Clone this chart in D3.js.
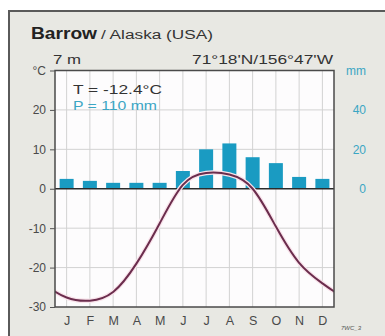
<!DOCTYPE html>
<html>
<head>
<meta charset="utf-8">
<script src="https://cdn.jsdelivr.net/npm/d3@7"></script>
<style>
  html, body { margin: 0; padding: 0; background: #fff; }
  svg { display: block; font-family: "Liberation Sans", Arial, sans-serif; }
</style>
</head>
<body>
<div id="climate"></div>
<script>
// Monthly data
const months = ["J", "F", "M", "A", "M", "J", "J", "A", "S", "O", "N", "D"];
const temperature = [-27.6, -28.4, -26.2, -19, -8.8, 1, 4, 3.6, 0, -9.6, -18.8, -24]; // °C
const precipitation = [5, 4, 3, 3, 3, 9, 20, 23, 16, 13, 6, 5]; // mm
const tempTicks = [-30, -20, -10, 0, 10, 20, 30];
const precTicks = [0, 20, 40, 60];

const W = 385, H = 336;
const plot = {left: 55, right: 334, top: 70.5, bottom: 307};

const svg = d3.select("#climate")
  .append("svg")
    .attr("width", W)
    .attr("height", H);

// Frame background
svg.append("rect")
    .attr("x", 9).attr("y", 11)
    .attr("width", W).attr("height", H)
    .attr("fill", "#e8e8e3")
    .attr("stroke", "#5a5a5a")
    .attr("stroke-width", 2);

// Scales
const x = d3.scaleLinear()
    .domain([-0.5, 11.5])
    .range([plot.left, plot.right]);
const yT = d3.scaleLinear()
    .domain([-30, 30])
    .range([plot.bottom, plot.top]);
const yP = d3.scaleLinear()
    .domain([0, 60])
    .range([yT(0), yT(30)]);

// Plot area
svg.append("rect")
    .attr("x", plot.left).attr("y", plot.top)
    .attr("width", plot.right - plot.left)
    .attr("height", plot.bottom - plot.top)
    .attr("fill", "#fdfcfd");

// Grid
const grid = svg.append("g").attr("stroke", "#d2d2d2").attr("stroke-width", 1);
grid.selectAll("line.v")
  .data(d3.range(12))
  .join("line")
    .attr("class", "v")
    .attr("x1", d => x(d)).attr("x2", d => x(d))
    .attr("y1", plot.top).attr("y2", plot.bottom);
grid.selectAll("line.h")
  .data(tempTicks.filter(d => d > -30 && d < 30 && d !== 0))
  .join("line")
    .attr("class", "h")
    .attr("x1", plot.left).attr("x2", plot.right)
    .attr("y1", d => yT(d)).attr("y2", d => yT(d));

// Precipitation bars
const barW = 14;
svg.append("g")
  .selectAll("rect")
  .data(precipitation)
  .join("rect")
    .attr("x", (d, i) => x(i) - barW / 2)
    .attr("y", d => yP(d))
    .attr("width", barW)
    .attr("height", d => yP(0) - yP(d))
    .attr("fill", "#1a9bc2");

// Zero line
svg.append("line")
    .attr("x1", plot.left).attr("x2", plot.right)
    .attr("y1", yT(0)).attr("y2", yT(0))
    .attr("stroke", "#2b2b2b")
    .attr("stroke-width", 1.5);

// Temperature curve (wrapped around the year so it meets the edges)
svg.append("clipPath").attr("id", "plotclip")
  .append("rect")
    .attr("x", plot.left).attr("y", plot.top)
    .attr("width", plot.right - plot.left)
    .attr("height", plot.bottom - plot.top);

const tempPoints = [[-2, temperature[10]], [-1, temperature[11]]]
    .concat(temperature.map((t, i) => [i, t]))
    .concat([[12, temperature[0]], [13, temperature[1]]]);

const line = d3.line()
    .x(d => x(d[0]))
    .y(d => yT(d[1]))
    .curve(d3.curveNatural);

const curve = svg.append("g").attr("clip-path", "url(#plotclip)");
curve.append("path")
    .datum(tempPoints)
    .attr("d", line)
    .attr("fill", "none")
    .attr("stroke", "#f8e2ea")
    .attr("stroke-width", 4.5);
curve.append("path")
    .datum(tempPoints)
    .attr("d", line)
    .attr("fill", "none")
    .attr("stroke", "#6b2d4d")
    .attr("stroke-width", 2);

// Plot border
svg.append("rect")
    .attr("x", plot.left).attr("y", plot.top)
    .attr("width", plot.right - plot.left)
    .attr("height", plot.bottom - plot.top)
    .attr("fill", "none")
    .attr("stroke", "#4a4a4a")
    .attr("stroke-width", 1.5);

// Left axis (°C)
const leftAxis = svg.append("g")
    .attr("transform", `translate(${plot.left},0)`)
    .call(d3.axisLeft(yT).tickValues(tempTicks).tickSize(5).tickPadding(4)
      .tickFormat(d => d === 30 ? "°C" : d));
leftAxis.select(".domain").remove();
leftAxis.selectAll(".tick line").attr("stroke", "#555");
leftAxis.selectAll("text")
    .attr("fill", "#4a4a4a")
    .style("font-size", "12px")
    .style("font-family", "Liberation Sans, Arial, sans-serif");

// Right axis (mm)
const rightAxis = svg.append("g")
    .attr("transform", `translate(${plot.right},0)`)
    .call(d3.axisRight(yP).tickValues(precTicks).tickSize(0).tickPadding(0)
      .tickFormat(d => d === 60 ? "mm" : d));
rightAxis.select(".domain").remove();
rightAxis.selectAll("text")
    .attr("x", 32)
    .attr("text-anchor", "end")
    .attr("fill", "#3aa6c4")
    .style("font-size", "12px")
    .style("font-family", "Liberation Sans, Arial, sans-serif");

// Month axis
const bottomAxis = svg.append("g")
    .attr("transform", `translate(0,${plot.bottom})`)
    .call(d3.axisBottom(x).tickValues(d3.range(12)).tickSize(0).tickPadding(9)
      .tickFormat(i => months[i]));
bottomAxis.select(".domain").remove();
bottomAxis.selectAll("text")
    .attr("fill", "#4a4a4a")
    .style("font-size", "12.5px")
    .style("font-family", "Liberation Sans, Arial, sans-serif");

// Titles
const title = svg.append("text")
    .attr("x", 31).attr("y", 39)
    .attr("fill", "#222");
title.append("tspan")
    .attr("font-weight", "bold")
    .attr("font-size", 16.5)
    .attr("textLength", 66)
    .attr("lengthAdjust", "spacingAndGlyphs")
    .text("Barrow");
title.append("tspan")
    .attr("x", 101)
    .attr("font-size", 12.5)
    .attr("fill", "#333")
    .attr("textLength", 112)
    .attr("lengthAdjust", "spacingAndGlyphs")
    .text("/ Alaska (USA)");

svg.append("text")
    .attr("x", 53).attr("y", 64)
    .attr("font-size", 12.5)
    .attr("fill", "#333")
    .attr("textLength", 28)
    .attr("lengthAdjust", "spacingAndGlyphs")
    .text("7 m");

svg.append("text")
    .attr("x", 333).attr("y", 64)
    .attr("text-anchor", "end")
    .attr("font-size", 12.5)
    .attr("fill", "#333")
    .attr("textLength", 141)
    .attr("lengthAdjust", "spacingAndGlyphs")
    .text("71°18'N/156°47'W");

svg.append("text")
    .attr("x", 73).attr("y", 94)
    .attr("font-size", 13.5)
    .attr("fill", "#333")
    .attr("textLength", 89)
    .attr("lengthAdjust", "spacingAndGlyphs")
    .text("T = -12.4°C");

svg.append("text")
    .attr("x", 73).attr("y", 110)
    .attr("font-size", 13.5)
    .attr("fill", "#3aa6c4")
    .attr("textLength", 84)
    .attr("lengthAdjust", "spacingAndGlyphs")
    .text("P = 110 mm");

svg.append("text")
    .attr("x", 341).attr("y", 330)
    .attr("font-size", 6)
    .attr("font-style", "italic")
    .attr("fill", "#555")
    .text("7WC_3");
</script>
</body>
</html>
